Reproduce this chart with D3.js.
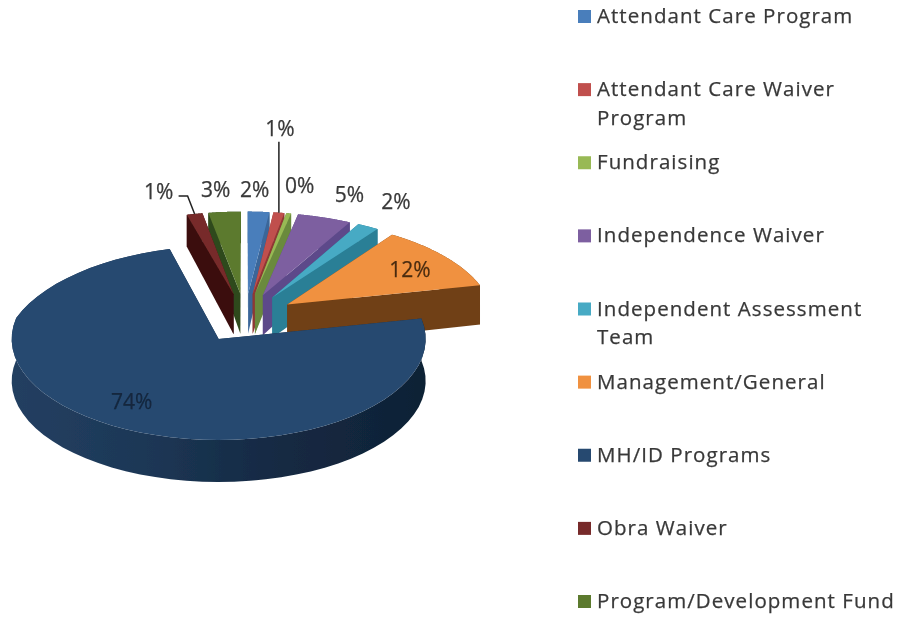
<!DOCTYPE html>
<html>

<head>
    <meta charset="utf-8">
    <style>
        body {
            margin: 0;
            background: #fff;
        }

        svg {
            display: block;
        }

        text {
            font-family: "Open Sans", sans-serif;
            fill: #383838;
            stroke: #383838;
            stroke-width: 0.25px;
        }
    </style>
</head>

<body>
    <svg width="916" height="618"></svg>

    <script src="https://d3js.org/d3.v7.min.js"></script>
    <script>
        // values, in percent
        let categories = ["Attendant Care Program", "Attendant Care Waiver Program", "Fundraising",
            "Independence Waiver", "Independent Assessment Team", "Management/General",
            "MH/ID Programs", "Obra Waiver", "Program/Development Fund"];
        let values = [2.0, 1.0, 0.45, 4.9, 1.9, 11.5, 73.8, 1.45, 3.0];

        let legendLines = [["Attendant Care Program"], ["Attendant Care Waiver", "Program"], ["Fundraising"],
            ["Independence Waiver"], ["Independent Assessment", "Team"], ["Management/General"],
            ["MH/ID Programs"], ["Obra Waiver"], ["Program/Development Fund"]];

        let topColors = ["#4a7ebb", "#c0504d", "#98b954", "#7d5fa0", "#46aac4", "#f0913f", "#27496f", "#772c2a", "#5c7a2e"];
        let wallColors = ["#3a6699", "#8f3735", "#6b8a3e", "#5d4a8a", "#2a7f96", "#6f3f15", "#1b3350", "#3a1010", "#2f4a1c"];

        // label offset from the middle of each slice's rim
        let labelNudge = [[-4, -23], [1, -85], [11, -28], [25, -24], [28, -25], [-34, 13], [20, -24], [-36, -23], [-9, -23]];

        let svg = d3.select("svg");

        // fake 3d: back half of the pie is squeezed, like the excel perspective
        let cx = 245, cy = 317.7;
        let rx = 207, ry = 101, squeeze = 12.7;
        let explode = 0.246;
        let depthFront = 42;

        function project(X, Y, down) {
            let back = Y < 0 ? -Y : 0;
            let k = 1 - 0.13 * back;
            let wall = down ? depthFront * (1 - 0.2 * back) : 0;
            return [cx + X * rx * k, cy + Y * ry + squeeze * back * back + wall];
        }

        let pie = d3.pie().sort(null).value(d => d);
        let slices = pie(values);

        function mid(d) { return (d.startAngle + d.endAngle) / 2; }

        function pt(d, angle, r, down) {
            let m = mid(d);
            let X = Math.sin(angle) * r + Math.sin(m) * explode;
            let Y = -Math.cos(angle) * r - Math.cos(m) * explode;
            return project(X, Y, down);
        }

        function rim(d, down) {
            return d3.range(0, 61).map(i => {
                let a = d.startAngle + (d.endAngle - d.startAngle) * i / 60;
                return pt(d, a, 1, down);
            });
        }

        let line = d3.line();

        let defs = svg.append("defs");
        defs.append("filter").attr("id", "soft")
            .append("feGaussianBlur").attr("stdDeviation", 0.7);

        let grad = defs.append("linearGradient").attr("id", "blueWall")
            .attr("gradientUnits", "userSpaceOnUse")
            .attr("x1", 12).attr("x2", 426).attr("y1", 0).attr("y2", 0);
        grad.selectAll("stop")
            .data([[0, "#233f61"], [0.3, "#1d3857"], [0.6, "#152b45"], [1, "#0f2135"]])
            .join("stop")
            .attr("offset", d => d[0])
            .attr("stop-color", d => d[1]);

        let chart = svg.append("g").attr("filter", "url(#soft)");

        // paint from the back slices to the front, the big one last
        let order = [8, 7, 0, 1, 2, 3, 4, 5, 6];

        order.forEach(i => {
            let d = slices[i];
            let g = chart.append("g");
            let fillWall = i == 6 ? "url(#blueWall)" : wallColors[i];

            // outer wall
            g.append("path")
                .attr("d", line(rim(d, false).concat(rim(d, true).reverse())) + "Z")
                .attr("fill", fillWall);

            // cut walls, the one facing us goes on top
            let edges = mid(d) > Math.PI ? [d.endAngle, d.startAngle] : [d.startAngle, d.endAngle];
            edges.forEach(a => {
                let quad = [pt(d, a, 0, false), pt(d, a, 1, false), pt(d, a, 1, true), pt(d, a, 0, true)];
                g.append("path")
                    .attr("d", line(quad) + "Z")
                    .attr("fill", wallColors[i]);
            });

            // top face
            g.append("path")
                .attr("d", line([pt(d, 0, 0, false)].concat(rim(d, false))) + "Z")
                .attr("fill", topColors[i]);
        });

        // data labels
        let fmt = d3.format(".0%");
        let total = d3.sum(values);
        let labelGroup = svg.append("g").attr("filter", "url(#soft)");

        function labelPos(i) {
            let p = pt(slices[i], mid(slices[i]), 1, false);
            return [p[0] + labelNudge[i][0], p[1] + labelNudge[i][1]];
        }

        labelGroup.selectAll("text")
            .data(slices)
            .join("text")
            .attr("x", (d, i) => labelPos(i)[0])
            .attr("y", (d, i) => labelPos(i)[1])
            .attr("text-anchor", "middle")
            .attr("dominant-baseline", "central")
            .attr("font-size", 21)
            .style("fill", (d, i) => i == 5 ? "#4a2c10" : i == 6 ? "#14263d" : "#383838")
            .style("stroke", (d, i) => i == 5 ? "#4a2c10" : i == 6 ? "#14263d" : "#383838")
            .text(d => fmt(d.data / total));

        // leader lines for the two labels pulled away from their slice
        let redEnd = pt(slices[1], mid(slices[1]), 1, false);
        let redLabel = labelPos(1);
        labelGroup.append("path")
            .attr("d", line([[redEnd[0], redEnd[1]], [redEnd[0], redLabel[1] + 14]]))
            .attr("fill", "none")
            .attr("stroke", "#222")
            .attr("stroke-width", 1.5);

        let obraEnd = pt(slices[7], mid(slices[7]), 1, false);
        let obraLabel = labelPos(7);
        labelGroup.append("path")
            .attr("d", line([[obraLabel[0] + 20, obraLabel[1] + 5], [obraLabel[0] + 29, obraLabel[1] + 5], obraEnd]))
            .attr("fill", "none")
            .attr("stroke", "#222")
            .attr("stroke-width", 1.5);

        // legend
        let rowY = d3.scalePoint().domain(categories).range([15, 600]);

        let legend = svg.append("g").attr("filter", "url(#soft)")
            .selectAll("g")
            .data(categories)
            .join("g")
            .attr("transform", d => "translate(0," + rowY(d) + ")");

        legend.append("rect")
            .attr("x", 578)
            .attr("y", -5)
            .attr("width", 13)
            .attr("height", 13)
            .attr("fill", (d, i) => topColors[i]);

        legend.selectAll("text")
            .data((d, i) => legendLines[i])
            .join("text")
            .attr("x", 597)
            .attr("y", (d, i) => i * 28.5)
            .attr("dominant-baseline", "central")
            .attr("font-size", 20.5)
            .attr("letter-spacing", 1.05)
            .text(d => d);
    </script>
</body>

</html>
